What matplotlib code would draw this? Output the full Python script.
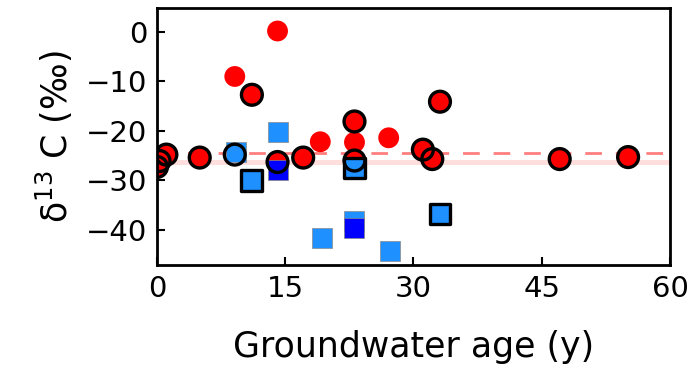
import matplotlib.pyplot as plt

# groundwater age (y) and d13C (permil)
red_x = [0.0, 0.3, 1.1, 5.0, 9.1, 11.1, 14.1, 14.1, 17.1, 19.1, 23.1, 23.1, 23.1, 27.1, 31.1, 32.2, 33.1, 47.1, 55.1]
red_y = [-27.3, -26.1, -24.8, -25.4, -9.0, -12.7, 0.2, -26.3, -25.4, -22.2, -18.1, -22.3, -26.0, -21.4, -23.8, -25.7, -14.1, -25.7, -25.3]
red_edge = [1, 1, 1, 1, 0, 1, 0, 1, 1, 0, 1, 0, 1, 0, 1, 1, 1, 1, 1]

# light blue squares
sq_x = [9.2, 11.1, 14.1, 19.3, 23.1, 23.1, 27.2, 33.1]
sq_y = [-24.2, -30.1, -20.3, -41.6, -38.3, -27.5, -44.2, -36.8]
sq_edge = [0, 1, 0, 0, 0, 1, 0, 1]

# dark blue squares
dk_x = [14.1, 23.1]
dk_y = [-28.0, -39.6]

# open outline circle over a blue square
ring_x = [9.1]
ring_y = [-24.8]

mean_dash = -24.4
band_lo, band_hi = -26.9, -25.8

plt.figure(figsize=(6.9, 3.72), dpi=100)
ax = plt.axes([0.2275, 0.288, 0.7435, 0.6905])

ax.axhspan(band_lo, band_hi, color='#ff0000', alpha=0.13, lw=0, zorder=1)
ax.axhline(mean_dash, color='#ff0000', alpha=0.5, lw=2, dashes=(6, 5), zorder=1)

s = 225
ax.scatter(red_x, red_y, s=s, c='red', marker='o', edgecolors='none', zorder=2)
ax.scatter(sq_x, sq_y, s=s, c='#1e90ff', marker='s', edgecolors='#888888', linewidths=0.5, zorder=3)
ax.scatter(dk_x, dk_y, s=s, c='#0000ff', marker='s', edgecolors='#888888', linewidths=0.5, zorder=3)

ex = [x for x, e in zip(red_x, red_edge) if e] + ring_x
ey = [y for y, e in zip(red_y, red_edge) if e] + ring_y
ax.scatter(ex, ey, s=s, facecolors='none', edgecolors='black', linewidths=2.4, marker='o', zorder=4)
bx = [x for x, e in zip(sq_x, sq_edge) if e]
by = [y for y, e in zip(sq_y, sq_edge) if e]
ax.scatter(bx, by, s=s, facecolors='none', edgecolors='black', linewidths=2.4, marker='s', zorder=4)

ax.set_xlim(0, 60)
ax.set_ylim(-47.1, 4.85)
ax.set_xticks([0, 15, 30, 45, 60])
ax.set_yticks([0, -10, -20, -30, -40])
ax.tick_params(direction='in', length=6, width=1.5, labelsize=21, pad=7)
for sp in ax.spines.values():
    sp.set_linewidth(2)

ax.set_xlabel('Groundwater age (y)', fontsize=25, labelpad=20)
ax.set_ylabel('δ$^{13}$ C (‰)', fontsize=25, labelpad=8)

plt.savefig('out.png', dpi=100)
